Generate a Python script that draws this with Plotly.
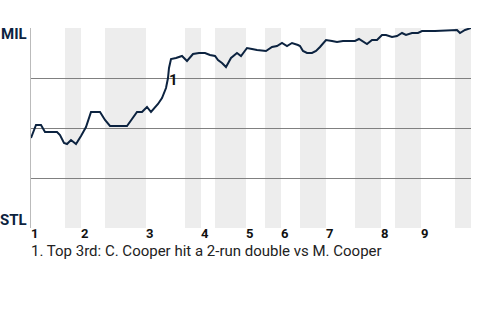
import plotly.graph_objects as go

# Game progress (event units) and MIL win probability (%)
progress = [0, 1, 2, 2.8, 5.2, 5.8, 6.6, 7.2, 8, 9, 10, 11, 12, 13, 13.8, 14.8, 15.8, 17.2, 19.2,
            20.2, 21.2, 22.2, 23.2, 24, 25.4, 26.2, 27, 27.4, 27.6, 28, 29, 30.2, 31.2, 32.4, 33.6,
            34.8, 35.8, 36.8, 37.4, 38.2, 39, 40, 41.2, 42, 43.2, 44.2, 45.2, 47, 48.2, 49.2, 50.2,
            51.2, 52.2, 53.4, 53.8, 54.4, 55.2, 56.2, 57, 57.8, 59, 60.2, 61.2, 62.4, 64.8, 65.6,
            67.2, 68.2, 69.2, 70.2, 71, 72.2, 73.2, 74.2, 75, 76.2, 77.4, 78.2, 80.8, 85.2, 85.8,
            86.8, 88]
mil_wp = [45, 51.5, 51.5, 48, 48, 46.5, 42.5, 42, 44, 42, 46, 50.5, 58, 58, 58, 54, 51, 51, 51,
          54.5, 58, 58, 60.5, 58, 62, 65, 70, 75, 80, 84.5, 85, 86, 83.5, 87, 87.5,
          87.5, 86.5, 86, 84, 82.5, 80.5, 85, 87.5, 86, 90, 89.5, 89, 88.5, 90.5, 91, 92.5,
          91, 92.5, 91.5, 91, 88.5, 87.5, 87.5, 88.5, 90.5, 94, 93.5, 93, 93.5, 93.5, 94.5,
          92, 94, 94, 96.5, 96.5, 95.5, 96, 97.5, 96.5, 97.5, 97.5, 98.5, 98.5, 99, 97.5,
          99, 100]

# half-inning boundaries (game progress units)
half_starts = [0, 6.8, 10, 14.8, 23, 30.8, 34, 36.8, 43, 46.8, 50, 53.8, 59, 64.8, 70, 72.8, 78, 84.8]
game_end = 88
inning_labels = ["1", "2", "3", "4", "5", "6", "7", "8", "9"]

event_x = 28.4
event_y = 74
event_label = "1"
footnote = "1. Top 3rd: C. Cooper hit a 2-run double vs M. Cooper"
team_top = "MIL"
team_bottom = "STL"

navy = "#0c2340"

fig = go.Figure()
fig.add_trace(go.Scatter(x=progress, y=mil_wp, mode="lines",
                         line=dict(color=navy, width=2), hoverinfo="skip"))

shapes = []
ends = half_starts[1:] + [game_end]
for i, (s, e) in enumerate(zip(half_starts, ends)):
    if i % 2 == 1:
        shapes.append(dict(type="rect", xref="x", yref="paper", x0=s, x1=e, y0=0, y1=1,
                           fillcolor="#ededed", line=dict(width=0), layer="below"))

annotations = [
    dict(x=event_x, y=event_y, xref="x", yref="y", text=f"<b>{event_label}</b>", showarrow=False,
         font=dict(family="Roboto", size=15, color="#111111")),
    dict(x=0, y=97, xref="paper", yref="y", text=f"<b>{team_top}</b>", showarrow=False,
         xanchor="right", yanchor="middle", xshift=-2,
         font=dict(family="Roboto", size=15, color=navy)),
    dict(x=0, y=4, xref="paper", yref="y", text=f"<b>{team_bottom}</b>", showarrow=False,
         xanchor="right", yanchor="middle", xshift=-2,
         font=dict(family="Roboto", size=15, color=navy)),
    dict(x=0, y=-0.115, xref="paper", yref="paper", text=footnote, showarrow=False,
         xanchor="left", yanchor="middle", xshift=-2,
         font=dict(family="Roboto", size=15, color="#222222")),
]

fig.update_layout(
    width=480, height=320,
    margin=dict(l=31, r=9, t=28, b=92),
    paper_bgcolor="white", plot_bgcolor="white",
    showlegend=False,
    shapes=shapes,
    annotations=annotations,
    xaxis=dict(range=[0, game_end], tickvals=[half_starts[i] for i in range(0, 18, 2)],
               ticktext=[f"<b>{t}</b>" for t in inning_labels], ticklabelposition="outside right",
               ticklabelstandoff=-4,
               showgrid=False, zeroline=False, showline=False, ticks="", ticklen=0,
               tickfont=dict(family="Roboto", size=13, color="#111111")),
    yaxis=dict(range=[0, 100], tickvals=[25, 50, 75, 100], showticklabels=False,
               showgrid=True, gridcolor="#808080", gridwidth=1, zeroline=False,
               showline=True, linecolor="#bbbbbb", linewidth=1, ticks=""),
)

fig.write_html("out.html")
